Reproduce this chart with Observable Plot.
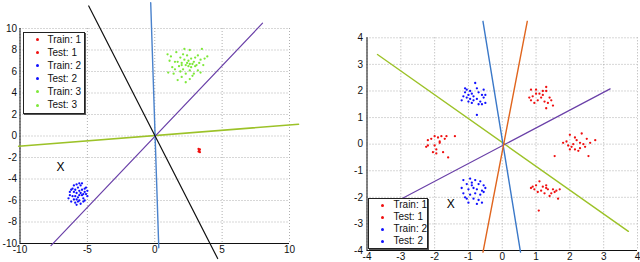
<!DOCTYPE html>
<html><head><meta charset="utf-8">
<script src="https://cdn.jsdelivr.net/npm/d3@7"></script>
<script src="https://cdn.jsdelivr.net/npm/@observablehq/plot@0.6"></script>
<style>
body{margin:0;background:#fff;font-family:"Liberation Sans",Arial,sans-serif;}
#wrap{position:relative;width:640px;height:262px;overflow:hidden;}
.panel{position:absolute;top:0;width:320px;height:262px;}
.legend{position:absolute;background:#fff;border:1px solid #222;box-shadow:1px 1px 0 #555;font-size:10px;color:#111;}
.legend div{position:relative;white-space:nowrap;}
.legend span.m{position:absolute;width:3px;height:3px;border-radius:50%;}
</style></head>
<body><div id="wrap"><div class="panel" id="left" style="left:0"></div><div class="panel" id="right" style="left:320px"></div></div>
<script>
// ---------- Left panel data ----------
const leftXTicks = [-10, -5, 0, 5, 10];
const leftYTicks = [-10, -8, -6, -4, -2, 0, 2, 4, 6, 8, 10];
const leftClass1 = [[3.25,-1.2],[3.35,-1.25],[3.3,-1.4],[3.25,-1.45],[3.35,-1.5],[3.3,-1.3]];
const leftClass2 = [[-5.8,-5.3],[-5.6,-5.1],[-5.9,-5.6],[-5.4,-5.5],[-6.0,-5.2],[-5.7,-4.8],[-5.5,-4.6],[-5.2,-4.9],[-6.1,-4.9],[-6.3,-5.5],[-5.3,-5.8],[-5.6,-6.0],[-5.9,-6.2],[-5.5,-6.3],[-6.0,-5.9],[-5.1,-5.4],[-5.0,-5.6],[-6.2,-5.0],[-5.8,-4.5],[-5.4,-4.4],[-5.2,-5.2],[-5.7,-5.7],[-5.5,-5.3],[-5.9,-5.0],[-6.1,-5.6],[-5.3,-6.1],[-5.8,-6.4],[-6.3,-5.2],[-5.6,-4.4],[-5.1,-4.8],[-5.4,-5.0],[-6.0,-4.6],[-5.7,-6.1],[-5.2,-6.0],[-6.2,-6.1],[-5.6,-5.5],[-5.8,-5.9],[-5.3,-5.4],[-6.4,-5.8],[-5.0,-5.1]];
const leftClass3 = [[2.0,6.8],[2.3,6.6],[2.6,6.7],[2.9,6.9],[3.1,6.6],[1.8,6.5],[2.5,7.0],[2.2,7.1],[2.7,6.4],[3.3,6.8],[1.5,6.9],[1.2,7.4],[1.0,5.9],[1.4,5.8],[2.0,5.5],[2.3,5.0],[1.7,5.2],[2.8,5.6],[3.2,6.1],[3.6,6.6],[3.9,7.4],[3.5,8.1],[2.6,8.0],[2.2,8.1],[1.6,7.8],[1.9,7.3],[2.4,7.5],[3.0,7.3],[3.4,7.1],[2.1,6.2],[2.6,6.1],[1.3,6.4],[2.8,6.7],[2.4,6.8],[2.0,6.6],[1.7,6.9],[3.0,6.5],[2.5,6.5],[3.2,7.5],[1.1,7.0],[0.95,7.6],[2.9,5.8],[3.4,5.9],[2.3,5.8],[1.9,6.0],[2.7,7.2],[3.7,7.2],[2.1,7.6],[1.5,6.2],[2.6,5.3]];
const leftLineBlack = [[-4.9,12.1],[4.67,-11.4]];
const leftLineBlue = [[-0.3,12.4],[0.3,-10.4]];
const leftLinePurple = [[-7.7,-10.2],[8.0,10.5]];
const leftLineGreen = [[-10.1,-0.95],[10.67,1.09]];
const leftQuery = [[-7.0,-2.9]];
const leftLegend = ["Train: 1","Test: 1","Train: 2","Test: 2","Train: 3","Test: 3"];

// ---------- Right panel data ----------
const rightTicks = [-4, -3, -2, -1, 0, 1, 2, 3, 4];
const rightRedUR = [[0.85,2.05],[1.0,2.05],[1.3,2.15],[1.3,2.0],[1.1,1.9],[1.2,1.85],[0.9,1.8],[0.8,1.75],[1.05,1.65],[1.4,1.75],[1.25,1.6],[1.35,1.55],[1.5,1.45],[1.3,1.35],[0.95,1.55],[1.15,1.75],[1.0,1.9],[1.45,1.65],[0.85,1.65],[1.2,2.0]];
const rightRedR = [[2.0,0.35],[2.35,0.4],[2.75,0.15],[2.6,0.05],[2.4,0.0],[2.3,0.05],[2.2,0.15],[2.1,0.0],[1.9,0.1],[1.8,0.05],[2.05,-0.1],[2.15,-0.2],[2.25,-0.25],[2.45,-0.1],[2.55,-0.45],[2.0,-0.2],[1.95,-0.05],[1.55,-0.45],[2.3,-0.15],[2.15,0.25],[2.5,0.2]];
const rightRedLR = [[0.9,-1.6],[0.85,-1.65],[1.0,-1.55],[1.1,-1.4],[1.2,-1.6],[1.3,-1.55],[1.35,-1.7],[1.5,-1.7],[1.6,-1.75],[1.7,-1.7],[1.15,-1.75],[1.25,-1.85],[1.05,-1.8],[1.45,-1.85],[1.55,-1.8],[1.65,-2.05],[1.3,-1.65],[1.08,-2.5],[1.4,-1.95],[0.95,-1.7]];
const rightRedL = [[-2.2,0.15],[-2.1,0.2],[-2.0,0.3],[-1.9,0.25],[-1.8,0.3],[-1.65,0.3],[-1.4,0.3],[-1.7,0.2],[-1.85,0.1],[-2.25,-0.1],[-2.0,-0.05],[-1.95,-0.2],[-2.05,-0.3],[-1.95,-0.35],[-1.75,-0.3],[-1.6,-0.5],[-2.2,-0.05],[-1.85,0.05]];
const rightBlueUL = [[-1.1,2.1],[-1.05,2.05],[-0.95,2.0],[-0.8,2.3],[-0.75,2.1],[-0.55,2.05],[-0.9,1.9],[-0.7,1.95],[-0.6,1.85],[-1.0,1.85],[-1.15,1.8],[-1.2,1.65],[-0.95,1.7],[-0.85,1.65],[-0.75,1.7],[-0.65,1.6],[-0.5,1.55],[-0.55,1.75],[-0.9,1.55],[-1.0,1.6],[-0.7,1.5],[-0.6,1.5],[-0.85,1.8],[-0.75,1.1],[-1.1,1.95],[-0.5,1.85],[-1.05,1.75]];
const rightBlueLL = [[-1.15,-1.35],[-0.95,-1.3],[-0.8,-1.35],[-0.65,-1.4],[-1.05,-1.5],[-0.9,-1.55],[-0.7,-1.5],[-0.55,-1.55],[-0.5,-1.65],[-1.2,-1.65],[-1.0,-1.7],[-0.85,-1.65],[-0.75,-1.7],[-0.6,-1.75],[-1.15,-1.85],[-0.95,-1.9],[-0.8,-1.85],[-0.65,-1.9],[-1.1,-2.0],[-0.85,-2.05],[-0.7,-2.1],[-0.6,-2.2],[-1.0,-2.2],[-0.75,-2.25],[-0.9,-1.45],[-0.55,-1.8],[-1.05,-2.05]];
const rightLineGreen = [[-3.69,3.37],[3.73,-3.28]];
const rightLinePurple = [[-3.34,-2.3],[3.19,2.08]];
const rightLineBlue = [[-0.57,4.62],[0.54,-4.06]];
const rightLineOrange = [[0.74,4.62],[-0.57,-4.06]];
const rightQuery = [[-1.52,-2.24]];
const rightLegend = ["Train: 1","Test: 1","Train: 2","Test: 2"];

const RED = "#f01010", BLUE = "#1010ff", LGREEN = "#7ee83a";
const fmt = d => String(d);
const grid = {stroke:"#9a9a9a", strokeOpacity:1, strokeDasharray:"1,2", strokeWidth:0.8};
const dot = (data, fill) => Plot.dot(data, {x:d=>d[0], y:d=>d[1], r:1.15, fill, stroke:null});
const seg = (data, stroke, w=1.2) => Plot.line(data, {x:d=>d[0], y:d=>d[1], stroke, strokeWidth:w});

const left = Plot.plot({
  width:320, height:262, marginLeft:19.5, marginRight:31, marginTop:28, marginBottom:19,
  style:{fontFamily:"Liberation Sans, Arial, sans-serif", fontSize:"10px", color:"#111", background:"transparent"},
  x:{domain:[-10,10]}, y:{domain:[-10,10]},
  marks:[
    Plot.gridX(leftXTicks, grid), Plot.gridY(leftYTicks, grid),
    Plot.axisX({ticks:leftXTicks, tickSize:0, tickPadding:2, tickFormat:fmt, label:null}),
    Plot.axisY({ticks:leftYTicks, tickSize:0, tickPadding:3, tickFormat:fmt, label:null}),
    Plot.ruleX([-10], {stroke:"#111", strokeWidth:1}),
    Plot.ruleY([-10], {stroke:"#111", strokeWidth:1}),
    dot(leftClass3, LGREEN), dot(leftClass2, BLUE), dot(leftClass1, RED),
    seg(leftLineGreen, "#9cc228", 1.6), seg(leftLinePurple, "#6a40a8"),
    seg(leftLineBlue, "#4a82cc", 1.4), seg(leftLineBlack, "#111"),
    Plot.text(leftQuery, {x:d=>d[0], y:d=>d[1], text:()=>"X", fontSize:12, fill:"#000"})
  ]
});
document.getElementById("left").append(left);

const right = Plot.plot({
  width:320, height:262, marginLeft:46.5, marginRight:3, marginTop:37.3, marginBottom:12,
  style:{fontFamily:"Liberation Sans, Arial, sans-serif", fontSize:"10px", color:"#111", background:"transparent"},
  x:{domain:[-4,4]}, y:{domain:[-4,4]},
  marks:[
    Plot.gridX(rightTicks, grid), Plot.gridY(rightTicks, grid),
    Plot.axisX({ticks:rightTicks, tickSize:0, tickPadding:2, tickFormat:fmt, label:null}),
    Plot.axisY({ticks:rightTicks, tickSize:0, tickPadding:4, tickFormat:fmt, label:null}),
    Plot.ruleX([-4], {stroke:"#111", strokeWidth:1}),
    Plot.ruleY([-4], {stroke:"#111", strokeWidth:1}),
    dot(rightRedUR, RED), dot(rightRedR, RED), dot(rightRedLR, RED), dot(rightRedL, RED),
    dot(rightBlueUL, BLUE), dot(rightBlueLL, BLUE),
    seg(rightLineGreen, "#9cc228", 1.4), seg(rightLinePurple, "#6a40a8"),
    seg(rightLineBlue, "#3a78c8", 1.4), seg(rightLineOrange, "#e0651e", 1.4),
    Plot.text(rightQuery, {x:d=>d[0], y:d=>d[1], text:()=>"X", fontSize:12, fill:"#000"})
  ]
});
document.getElementById("right").append(right);

function legend(parent, items, colors, box, rowH, markX, textX) {
  const el = document.createElement("div");
  el.className = "legend";
  Object.assign(el.style, {left:box[0]+"px", top:box[1]+"px", width:box[2]+"px", height:box[3]+"px"});
  items.forEach((t,i) => {
    const r = document.createElement("div");
    r.style.height = rowH+"px"; r.style.lineHeight = rowH+"px";
    const m = document.createElement("span"); m.className="m";
    Object.assign(m.style, {left:markX+"px", top:(rowH/2-1.5)+"px", background:colors[i]});
    const s = document.createElement("span"); s.textContent = t;
    s.style.position="absolute"; s.style.left = textX+"px";
    r.append(m, s); el.append(r);
  });
  parent.append(el);
}
legend(document.getElementById("left"), leftLegend, [RED,RED,BLUE,BLUE,LGREEN,LGREEN], [22.5,32,60,80], 13.1, 12, 24);
legend(document.getElementById("right"), rightLegend, [RED,RED,BLUE,BLUE], [47.5,198,58,49], 12.1, 12, 25);
</script></body></html>
